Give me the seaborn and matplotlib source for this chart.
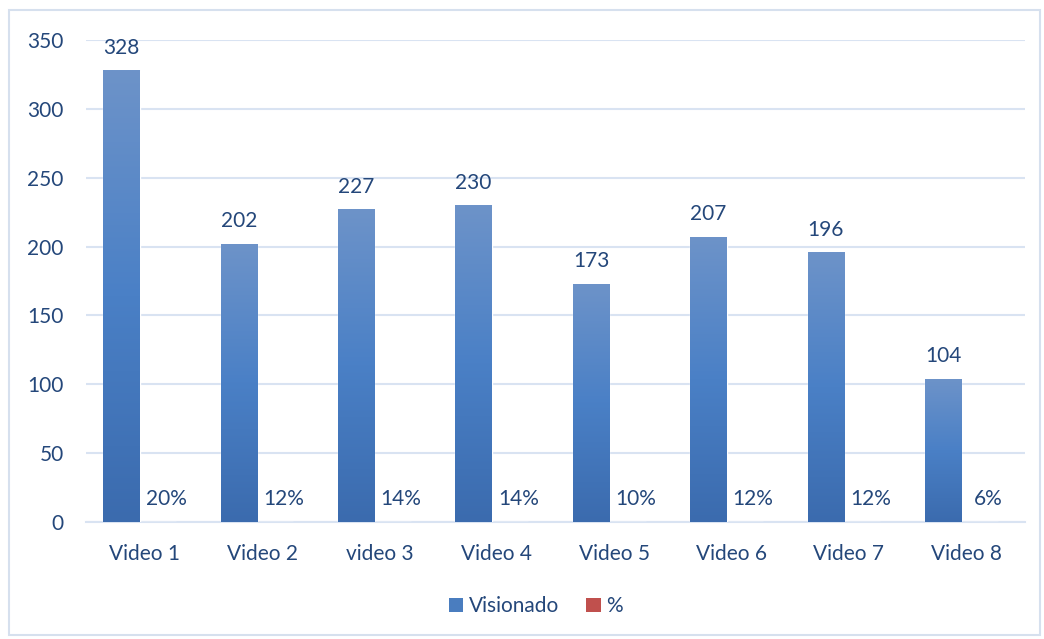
import numpy as np
import pandas as pd
import matplotlib
matplotlib.use("Agg")
import matplotlib.pyplot as plt
import seaborn as sns
from matplotlib.colors import LinearSegmentedColormap
from matplotlib.patches import Patch, Rectangle
from matplotlib.transforms import ScaledTranslation

categories = ["Video 1", "Video 2", "video 3", "Video 4", "Video 5", "Video 6", "Video 7", "Video 8"]
visionado = [328, 202, 227, 230, 173, 207, 196, 104]
porcentaje = [0.20, 0.12, 0.14, 0.14, 0.10, 0.12, 0.12, 0.06]
series_names = ["Visionado", "%"]
y_ticks = [0, 50, 100, 150, 200, 250, 300, 350]

TEXT = "#24477a"
GRID = "#d9e3f2"
FS = 15

df = pd.DataFrame({
    "cat": categories * 2,
    "serie": [series_names[0]] * len(categories) + [series_names[1]] * len(categories),
    "val": visionado + porcentaje,
})

sns.set_style("white")
plt.rcParams["font.family"] = ["Lato", "DejaVu Sans"]

fig = plt.figure(figsize=(10.44, 6.39), dpi=100)
ax = fig.add_axes([0.0824, 0.1831, 0.8994, 0.7543])

sns.barplot(data=df, x="cat", y="val", hue="serie", order=categories,
            hue_order=series_names, palette=["#4a7dbf", "#c0504d"],
            width=0.62, ax=ax, legend=False, zorder=3, saturation=1)

# gradient on bars
cmap_b = LinearSegmentedColormap.from_list("b", ["#3b6bae", "#4a80c6", "#6d93c9"])
cmap_r = LinearSegmentedColormap.from_list("r", ["#a33c39", "#c0504d", "#d6807e"])
grad = np.linspace(0, 1, 256).reshape(-1, 1)
for cont, cm in zip(ax.containers, [cmap_b, cmap_r]):
    for p in cont.patches:
        x0, y0, w, h = p.get_x(), p.get_y(), p.get_width(), p.get_height()
        if h <= 0:
            continue
        im = ax.imshow(grad, extent=[x0, x0 + w, y0, y0 + h], origin="lower",
                       aspect="auto", cmap=cm, zorder=3.5)
        im.set_clip_path(p)

ax.bar_label(ax.containers[0], labels=[str(v) for v in visionado], padding=9,
             color=TEXT, fontsize=FS)
pct_labels = ax.bar_label(ax.containers[1], labels=[f"{round(v*100)}%" for v in porcentaje],
                          padding=9, color=TEXT, fontsize=FS)
for t in pct_labels:
    t.xyann = (6, 9)

ax.set_xlim(-0.457, len(categories) - 0.457)
ax.set_ylim(0, 350)
ax.set_yticks(y_ticks)
ax.set_aspect("auto")
ax.grid(axis="y", color=GRID, linewidth=1.5, zorder=0)
ax.set_axisbelow(True)
for s in ["left", "right", "top"]:
    ax.spines[s].set_visible(False)
ax.spines["bottom"].set_color(GRID)
ax.spines["bottom"].set_linewidth(1.5)
ax.tick_params(axis="both", length=0, colors=TEXT, labelsize=FS)
ax.tick_params(axis="y", pad=16)
ax.tick_params(axis="x", pad=16)
ax.set_xlabel("")
ax.set_ylabel("")
shift_x = ScaledTranslation(5 / 100, 0, fig.dpi_scale_trans)
for lab in ax.get_xticklabels():
    lab.set_transform(lab.get_transform() + shift_x)

handles = [Patch(facecolor="#4a7dbf", edgecolor="none"),
           Patch(facecolor="#c0504d", edgecolor="none")]
leg = fig.legend(handles, series_names, loc="center", bbox_to_anchor=(0.513, 0.051),
                 ncol=2, frameon=False, fontsize=FS, handlelength=0.7,
                 handleheight=0.7, handletextpad=0.25, columnspacing=1.3)
for t in leg.get_texts():
    t.set_color(TEXT)

fig.patches.append(Rectangle((0.0085, 0.006), 0.988, 0.978, transform=fig.transFigure,
                             fill=False, edgecolor="#d6e0ee", linewidth=1.5))

fig.savefig("out.png", dpi=100)
